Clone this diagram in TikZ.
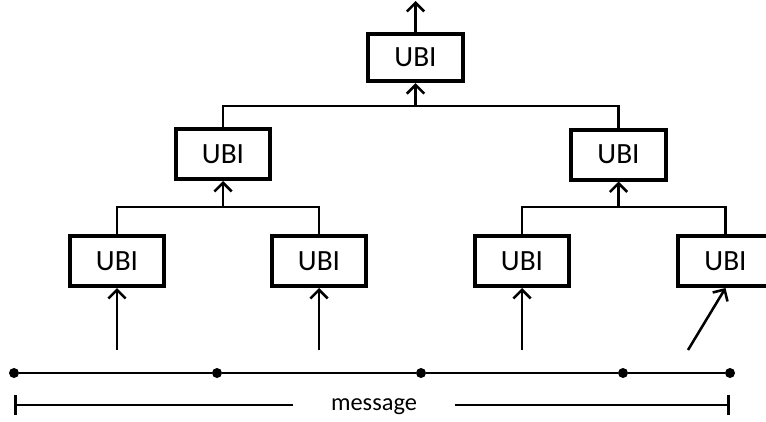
\documentclass[tikz,border=0pt]{standalone}
\usepackage{fontspec}
\setmainfont{Carlito}
\usetikzlibrary{arrows.meta}
\tikzset{
  ubi/.style={draw, line width=3pt, minimum width=71pt, minimum height=37.5pt,
    inner sep=0pt, font=\fontsize{22}{26}\selectfont},
  link/.style={line width=1.9pt},
  arr/.style={link, -{Straight Barb[length=6.5pt, width=13pt, line width=1.9pt]}},
  dot/.style={circle, fill=black, minimum size=7.5pt, inner sep=0pt},
}
\begin{document}
\begin{tikzpicture}[x=0.75pt, y=-0.75pt]
  \clip (0,0) rectangle (766,421);
  \fill[white] (0,0) rectangle (766,421);

  % tree of UBI blocks
  \node[ubi, minimum height=35.5pt] (top) at (415.5,57.5) {UBI};
  \node[ubi] (m1) at (223,154) {UBI};
  \node[ubi] (m2) at (618.5,154.5) {UBI};
  \node[ubi] (b1) at (117,261) {UBI};
  \node[ubi] (b2) at (319,261) {UBI};
  \node[ubi] (b3) at (522,261) {UBI};
  \node[ubi] (b4) at (725.5,261) {UBI};

  % joins between levels
  \coordinate (j1) at (m1.south |- 0,207);
  \coordinate (j2) at (m2.south |- 0,207);
  \coordinate (j0) at (top.south |- 0,106);
  \coordinate (out) at (415.5,1);

  \draw[link] (b1.north) |- (j1) -| (b2.north);
  \draw[link] (b3.north) |- (j2) -| (b4.north);
  \draw[arr] (j1) -- (m1.south);
  \draw[arr] (j2) -- (m2.south);
  \draw[link] (m1.north) |- (j0) -| (m2.north);
  \draw[arr] (j0) -- (top.south);
  \draw[arr] (top.north) -- (out);

  % message with its split points
  \node[dot] (p0) at (14,373) {};
  \node[dot] (p1) at (217,373) {};
  \node[dot] (p2) at (421,373) {};
  \node[dot] (p3) at (623,373) {};
  \node[dot] (p4) at (730,373) {};
  \draw[link] (p0) -- (p1) -- (p2) -- (p3) -- (p4);

  % inputs to the leaf blocks
  \coordinate (s1) at (117,350);
  \coordinate (s2) at (319,350);
  \coordinate (s3) at (522,350);
  \coordinate (s4) at (688,350);
  \draw[arr] (s1) -- (b1.south);
  \draw[arr] (s2) -- (b2.south);
  \draw[arr] (s3) -- (b3.south);
  \draw[arr] (s4) -- (b4.south);

  % length of the message
  \coordinate (r0) at (14,405);
  \coordinate (r1) at (730,405);
  \node[font=\fontsize{18.3}{22}\selectfont, inner xsep=28pt, inner ysep=0pt,
        anchor=base] (msg) at (374,410) {message};
  \draw[link, {Bar[width=15pt, line width=1.9pt]}-] (r0) -- (r0 -| msg.west);
  \draw[link, -{Bar[width=15pt, line width=1.9pt]}] (r1 -| msg.east) -- (r1);
\end{tikzpicture}
\end{document}
